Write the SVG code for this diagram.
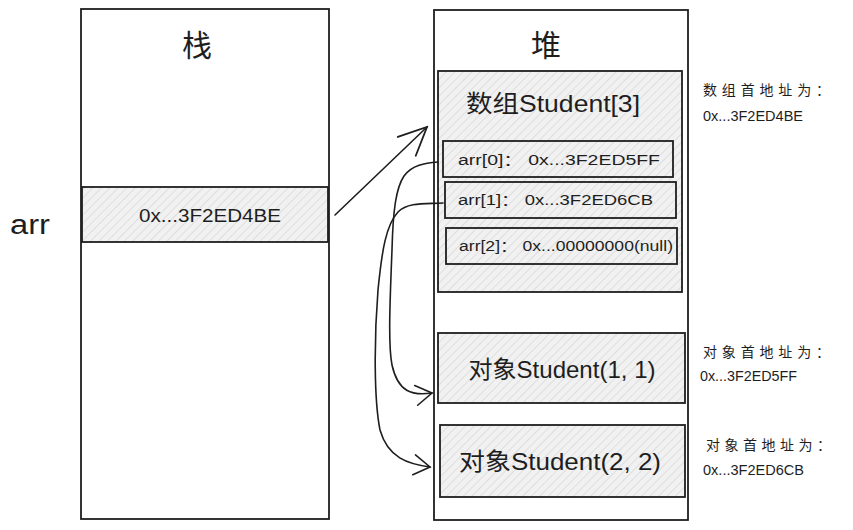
<svg xmlns="http://www.w3.org/2000/svg" width="853" height="530" viewBox="0 0 853 530">
<defs>
<pattern id="hatch" width="6" height="6" patternUnits="userSpaceOnUse" patternTransform="rotate(45)">
<rect width="6" height="6" fill="#f1f1f1"/>
<line x1="0" y1="0" x2="0" y2="6" stroke="#d2d2d2" stroke-width="1.2"/>
</pattern>
<marker id="arrow" viewBox="0 0 20 24" refX="18" refY="12" markerWidth="20" markerHeight="24" markerUnits="userSpaceOnUse" orient="auto">
<path d="M2,2 L18,12 L2,22" fill="none" stroke="#1e1e1e" stroke-width="1.6" stroke-linecap="round"/>
</marker>
<marker id="arrowBig" viewBox="0 0 32 30" refX="30" refY="15" markerWidth="32" markerHeight="30" markerUnits="userSpaceOnUse" orient="auto">
<path d="M2,2 L30,15 L2,28" fill="none" stroke="#1e1e1e" stroke-width="1.8" stroke-linecap="round"/>
</marker>
</defs>
<style>
.box{fill:#ffffff;stroke:#1e1e1e;stroke-width:1.8}
.cell{fill:url(#hatch);stroke:#1e1e1e;stroke-width:1.8}
.conn{fill:none;stroke:#1e1e1e;stroke-width:1.6;stroke-linecap:round}
text{font-family:"Liberation Sans","Noto Sans CJK SC",sans-serif;fill:#1e1e1e}
.t28{font-size:30px}
.t24{font-size:24px}
.t20{font-size:19px}
.t15{font-size:14px}
.t14{font-size:14px}
</style>
<rect width="853" height="530" fill="#ffffff"/>

<g id="stack">
<rect class="box" x="81" y="9" width="248" height="510"/>
<text class="t28" x="197" y="56" text-anchor="middle">栈</text>
</g>
<g id="stack-arr">
<rect class="cell" x="82" y="187" width="246" height="55"/>
<text class="t20" x="210" y="222" text-anchor="middle" textLength="142" lengthAdjust="spacingAndGlyphs">0x...3F2ED4BE</text>
</g>
<g id="label-arr">
<text x="10" y="234" style="font-size:27px" textLength="40" lengthAdjust="spacingAndGlyphs">arr</text>
</g>

<g id="heap">
<rect class="box" x="434" y="10" width="254" height="510"/>
<text class="t28" x="546" y="56" text-anchor="middle">堆</text>
</g>

<g id="array">
<rect class="cell" x="438" y="71" width="244" height="221"/>
<text class="t24" x="553" y="112" text-anchor="middle" textLength="174" lengthAdjust="spacingAndGlyphs">数组Student[3]</text>
</g>
<g id="arr0">
<rect class="cell" x="443" y="141" width="230" height="36"/>
<text class="t15" x="458" y="165" textLength="202" lengthAdjust="spacingAndGlyphs">arr[0]： 0x...3F2ED5FF</text>
</g>
<g id="arr1">
<rect class="cell" x="445" y="182" width="231" height="36"/>
<text class="t15" x="458" y="205" textLength="195" lengthAdjust="spacingAndGlyphs">arr[1]： 0x...3F2ED6CB</text>
</g>
<g id="arr2">
<rect class="cell" x="446" y="228" width="231" height="36"/>
<text class="t15" x="459" y="251" textLength="214" lengthAdjust="spacingAndGlyphs">arr[2]： 0x...00000000(null)</text>
</g>

<g id="obj1">
<rect class="cell" x="438" y="333" width="247" height="70"/>
<text class="t24" x="562" y="378" text-anchor="middle" textLength="187" lengthAdjust="spacingAndGlyphs">对象Student(1, 1)</text>
</g>
<g id="obj2">
<rect class="cell" x="440" y="425" width="245" height="72"/>
<text class="t24" x="560" y="470" text-anchor="middle" textLength="202" lengthAdjust="spacingAndGlyphs">对象Student(2, 2)</text>
</g>

<g id="note-array">
<text class="t14" x="703" y="95" textLength="127" lengthAdjust="spacing">数组首地址为：</text>
<text class="t14" x="703" y="121" textLength="100" lengthAdjust="spacingAndGlyphs">0x...3F2ED4BE</text>
</g>
<g id="note-obj1">
<text class="t14" x="703" y="357" textLength="127" lengthAdjust="spacing">对象首地址为：</text>
<text class="t14" x="700" y="381" textLength="97" lengthAdjust="spacingAndGlyphs">0x...3F2ED5FF</text>
</g>
<g id="note-obj2">
<text class="t14" x="706" y="450" textLength="125" lengthAdjust="spacing">对象首地址为：</text>
<text class="t14" x="703" y="475" textLength="101" lengthAdjust="spacingAndGlyphs">0x...3F2ED6CB</text>
</g>

<g id="connectors">
<path class="conn" d="M335,215 L427,127" marker-end="url(#arrowBig)"/>
<path class="conn" d="M438,162 C425,163 412,165 404,176 C396,188 393,210 392,250 C390,300 388,345 392,365 C398,392 412,396 432,393" marker-end="url(#arrow)"/>
<path class="conn" d="M443,203 C425,204 408,202 398,212 C386,225 382,250 378,290 C374,340 374,400 380,430 C388,458 408,464 430,467" marker-end="url(#arrow)"/>
</g>
</svg>
